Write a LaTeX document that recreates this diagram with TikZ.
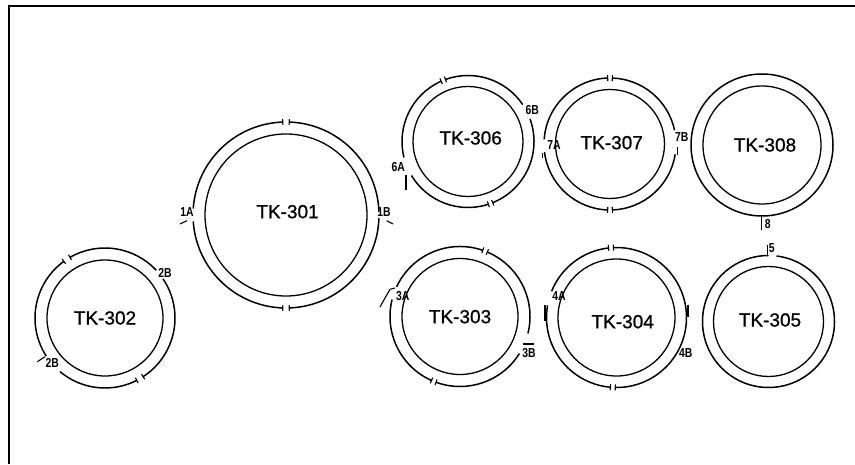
\documentclass[tikz,border=0pt]{standalone}
\usepackage{fontspec}
\setmainfont{Liberation Sans}
\newfontfamily\tkfont[FakeBold=0.8]{Liberation Sans}
\tikzset{
  x=1pt,y=1pt,
  vessel/.style={circle,draw,line width=1.3pt,inner sep=0pt},
  vesselname/.style={inner sep=0pt,font=\tkfont\fontsize{19}{20}\selectfont},
  ring/.style={line width=1.5pt},
  stub/.style={line width=1.1pt},
  tag/.style={inner sep=0pt,font=\fontsize{13}{13}\selectfont\bfseries},
}
% #1 name, #2 x, #3 y (image), #4 inner radius, #5 label, #6 label x, #7 label y
\newcommand{\vesselnode}[7]{\node[vessel,minimum size=#4*2pt] (#1) at (#2,464-#3) {};
  \node[vesselname] (#1n) at (#6,464-#7) {#5};}
% #1 name, #2 radius, #3 list of from/to angles
\newcommand{\ringarcs}[3]{\foreach \aa/\bb in {#3}{\draw[ring] (#1.center) ++(\aa:#2) arc[start angle=\aa,end angle=\bb,radius=#2];}}
% radial tick: #1 name, #2 radius, #3 angle
\newcommand{\ringtick}[3]{\draw[stub] (#1.center) ++(#3:#2-3) -- ++(#3:6);}
\newcommand{\tagat}[3]{\node[tag] at (#1,464-#2) {\scalebox{.8}[1]{#3}};}
\begin{document}
\begin{tikzpicture}
\useasboundingbox (0,0) rectangle (855,464);
\coordinate (fa) at (9,0);
\coordinate (fb) at (9,458);
\coordinate (fc) at (855,458);
\draw[line width=1.8pt] (fa) -- (fb) -- (fc);

\vesselnode{t301}{286}{215}{81}{TK-301}{287.5}{211.7}
\ringarcs{t301}{93}{92/176,184/268,272/358,2/88}
\foreach \a in {88,92,268,272} {\ringtick{t301}{93}{\a}}
\tagat{187}{212}{1A}\tagat{384}{212}{1B}
\coordinate (a1) at (180,464-224); \coordinate (a2) at (187,464-220.7);
\coordinate (b1) at (386.7,464-220.7); \coordinate (b2) at (393,464-224);
\draw[stub] (a1) -- (a2); \draw[stub] (b1) -- (b2);

\vesselnode{t302}{105}{318}{58}{TK-302}{105}{318}
\ringarcs{t302}{70}{126/213,230/297,303/394,43/120}
\foreach \a in {120,126,297,303} {\ringtick{t302}{70}{\a}}
\tagat{165}{273}{2B}\tagat{52.3}{363}{2B}
\coordinate (c1) at (37.3,464-361.7); \coordinate (c2) at (45,464-356.7);
\draw[stub] (c1) -- (c2);

\vesselnode{t306}{468}{141.5}{55}{TK-306}{470.7}{138}
\ringarcs{t306}{66}{34/110,114/194,211/288,292/380}
\foreach \a in {110,114,288,292} {\ringtick{t306}{66}{\a}}
\tagat{398.3}{167.3}{6A}\tagat{532.3}{110}{6B}
\coordinate (d1) at (406,464-175); \coordinate (d2) at (406,464-190);
\draw[stub] (d1) -- (d2);

\vesselnode{t307}{610}{144}{54.5}{TK-307}{611.7}{142.7}
\ringarcs{t307}{66}{12/88,92/176,187/268,272/351}
\foreach \a in {88,92,268,272} {\ringtick{t307}{66}{\a}}
\tagat{554}{145}{7A}\tagat{681.7}{137}{7B}
\coordinate (e1) at (542.7,464-153); \coordinate (e2) at (542.7,464-158);
\coordinate (f1) at (677.3,464-147); \coordinate (f2) at (677.3,464-155);
\draw[stub] (e1) -- (e2); \draw[stub] (f1) -- (f2);

\vesselnode{t308}{762}{145}{59}{TK-308}{765}{145}
\draw[ring] (t308.center) circle[radius=71];
\tagat{767.7}{224}{8}
\coordinate (g1) at (761.7,464-216.5); \coordinate (g2) at (761.7,464-230);
\draw[stub] (g1) -- (g2);

\vesselnode{t303}{460}{316.5}{58}{TK-303}{460}{316.7}
\ringarcs{t303}{70}{-14/67,71/155,166/246,250/328}
\foreach \a in {67,71,246,250} {\ringtick{t303}{70}{\a}}
\tagat{402.7}{296}{3A}\tagat{529}{353.3}{3B}
\coordinate (h1) at (380,464-307); \coordinate (h2) at (385,464-298);
\coordinate (h3) at (390,464-289.3); \coordinate (h4) at (395,464-288);
\draw[stub] (h1) -- (h2) -- (h3) -- (h4);
\coordinate (i1) at (523.3,464-344); \coordinate (i2) at (534,464-344);
\draw[stub] (i1) -- (i2);

\vesselnode{t304}{616.5}{317.5}{58.5}{TK-304}{622.7}{321.7}
\ringarcs{t304}{70}{-91/92.5,96.5/158,170/265}
\foreach \a in {92.5,96.5,265,269} {\ringtick{t304}{70}{\a}}
\tagat{559}{295.7}{4A}\tagat{685.7}{353.3}{4B}
\coordinate (j1) at (545,464-305); \coordinate (j2) at (545,464-320.7);
\draw[line width=2.6pt] (j1) -- (j2);
\coordinate (k1) at (688,464-305); \coordinate (k2) at (688,464-317);
\draw[stub] (k1) -- (k2);

\vesselnode{t305}{768.5}{321.5}{55}{TK-305}{770}{320}
\ringarcs{t305}{66}{90/443}
\tagat{771.7}{248.3}{5}
\coordinate (l1) at (767.3,464-245); \coordinate (l2) at (767.3,464-255);
\draw[stub] (l1) -- (l2);
\end{tikzpicture}
\end{document}
